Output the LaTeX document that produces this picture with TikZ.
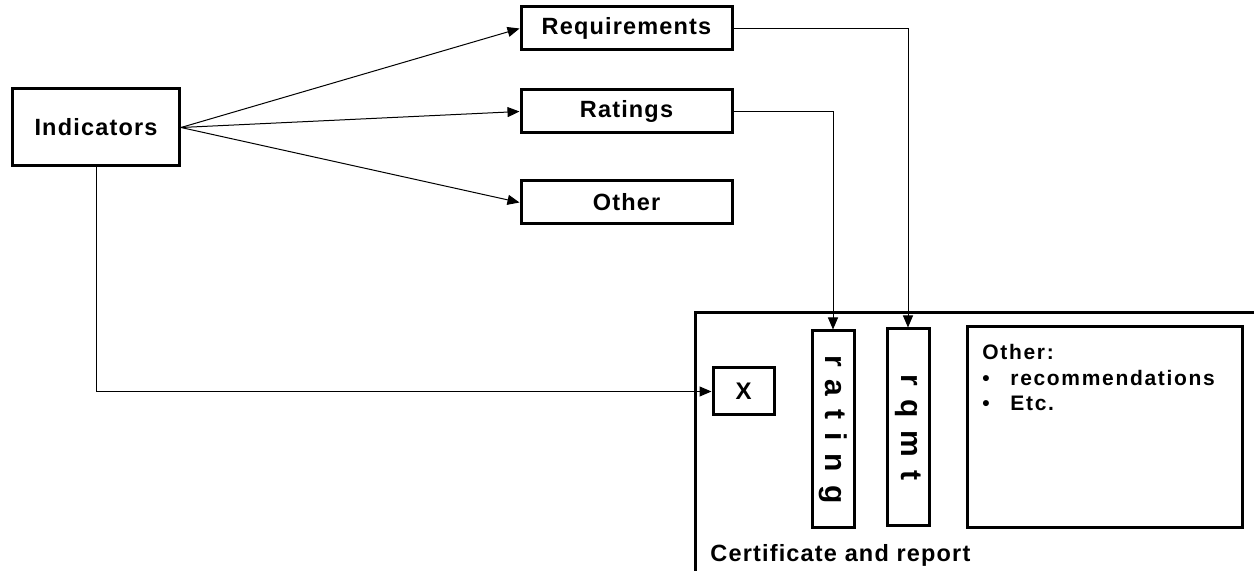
\documentclass[tikz,border=0pt]{standalone}
\usepackage{fontspec}
\setmainfont{Liberation Sans}[LetterSpace=5]
\newfontfamily\listfont{Liberation Sans}[LetterSpace=8]
\usetikzlibrary{arrows.meta}
\newcommand{\lsp}{\hspace{6.5pt}}
\tikzset{
	box/.style={draw, line width=1.5pt, inner sep=0pt, font=\bfseries\fontsize{11.75}{14}\selectfont},
	link/.style={line width=0.5pt, -{Triangle[length=6pt,width=5pt]}},
	vbox/.style={box, rotate=-90, minimum width=98.5pt, minimum height=21pt, font=\bfseries\fontsize{15}{18}\selectfont}
}
\begin{document}
\begin{tikzpicture}[x=0.5pt,y=-0.5pt]
	\useasboundingbox (0,0) rectangle (1254,571);
	\path 
	(96,127.5) node[box, minimum width=83.5pt, minimum height=38.5pt] (ind) {Indicators}
	(626.5,28.5) node[box, minimum width=105.5pt, minimum height=21.5pt] (req) {Requirements}
	(626.5,111.5) node[box, minimum width=105.5pt, minimum height=21.5pt] (rat) {Ratings}
	(626.5,202.5) node[box, minimum width=105.5pt, minimum height=21.5pt] (oth) {Other}
	;
	% certificate frame, open to the right and bottom
	\draw[line width=1.5pt] (695,575) -- (695,313) -- (1260,313);
	\node[anchor=west, inner sep=0pt, font=\bfseries\fontsize{11.75}{14}\selectfont] (cert) at (710,555) {Certificate and report};
	\path
	(743.5,391.5) node[box, minimum width=30.5pt, minimum height=23.5pt, font=\bfseries\fontsize{12}{14}\selectfont] (xbox) {X}
	(833,429.5) node[vbox] (ratbox) {r\lsp a\lsp t\lsp i\lsp n\lsp g}
	(908,427.5) node[vbox] (rqbox) {r\lsp q\lsp m\lsp t}
	(1104.5,427.5) node[box, minimum width=137.5pt, minimum height=100.5pt] (othbox) {}
	;
	\node[anchor=north west, inner sep=0pt, align=left, font=\listfont\bfseries\fontsize{10.5}{12.75}\selectfont] (othtxt) at (982,344)
	{Other:\\ \makebox[14pt][l]{\textbullet}recommendations\\ \makebox[14pt][l]{\textbullet}Etc.};
	\foreach \t in {req,rat,oth} \draw[link] (ind.east)--(\t.west);
	\draw[link] (ind.south) |- (xbox.west);
	% rotated boxes: west anchor is on top
	\draw[link] (rat.east) -| (ratbox.west);
	\draw[link] (req.east) -| (rqbox.west);
\end{tikzpicture}
\end{document}
